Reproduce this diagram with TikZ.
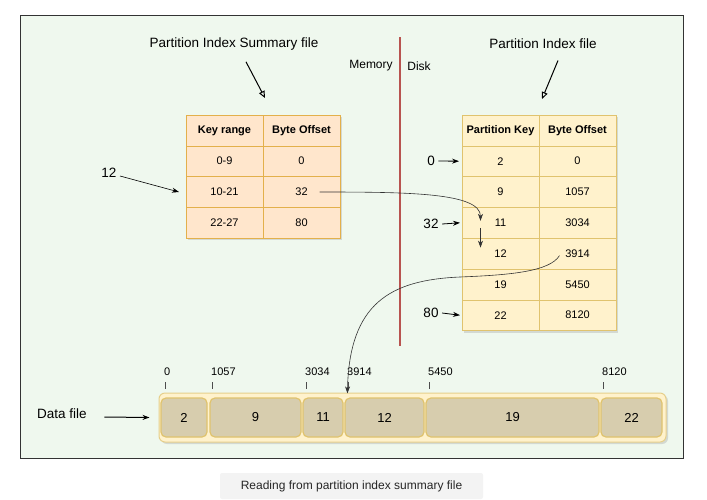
\documentclass[tikz,border=0pt]{standalone}
\usepackage{fontspec}
\setmainfont{Liberation Sans}
\usepackage{tikz}
\usetikzlibrary{positioning, arrows.meta, shadows}

\definecolor{bgframe}{HTML}{EFF8EE}
\definecolor{sumfill}{HTML}{FFE6CC}
\definecolor{sumline}{HTML}{E3B04B}
\definecolor{idxfill}{HTML}{FFF2CC}
\definecolor{idxline}{HTML}{E0C36E}
\definecolor{cellfill}{HTML}{D7CDAE}
\definecolor{divred}{HTML}{B85450}
\definecolor{capfill}{HTML}{F3F3F3}

\tikzset{
  sumcell/.style={draw=sumline, fill=sumfill, minimum width=77pt, minimum height=30.8pt,
    inner sep=1pt, outer sep=0pt, font=\fontsize{11}{13}\selectfont,
    drop shadow={shadow xshift=2pt, shadow yshift=-2pt, opacity=0.25}},
  idxcell/.style={sumcell, draw=idxline, fill=idxfill},
  headcell/.style={font=\fontsize{11}{13}\selectfont\bfseries},
  datacell/.style={draw=idxline, fill=cellfill, rounded corners=5pt, minimum height=39pt,
    line width=1.2pt, font=\fontsize{13}{15}\selectfont},
  heading/.style={font=\fontsize{13.5}{16}\selectfont},
  ptr/.style={-{Stealth[length=7pt,width=5pt]}, line width=0.8pt},
  link/.style={ptr, line width=0.6pt, draw=black!80},
  openptr/.style={-{Triangle[open, length=7pt, width=6pt]}, line width=1pt},
}

\begin{document}
\begin{tikzpicture}[x=1pt, y=-1pt]
    \useasboundingbox (0,0) rectangle (707,499);
    \draw[draw=black!80, fill=bgframe, line width=0.8pt] (20,15) rectangle (683,458);
    \node[fill=capfill, rounded corners=2pt, minimum width=263pt, minimum height=26pt,
      font=\fontsize{12}{14}\selectfont, text=black!85] (caption) at (351.5,486)
      {Reading from partition index summary file};

    % titles
    \node[heading] (sumtitle) at (234,44) {Partition Index Summary file};
    \node[heading] (idxtitle) at (543,44) {Partition Index file};

    % memory / disk split
    \coordinate (divtop) at (400,37);
    \coordinate (divbot) at (400,346);
    \draw[divred, line width=2.5pt] (divtop) -- (divbot);
    \node[font=\fontsize{12}{14}\selectfont] (mem) at (371,66) {Memory};
    \node[font=\fontsize{12}{14}\selectfont] (disk) at (419,66) {Disk};

    % summary table
    \node[sumcell, headcell, anchor=north west] (skh) at (186,115) {Key range};
    \node[sumcell, headcell, right=0pt of skh] (soh) {Byte Offset};
    \foreach \pk/\bo [count=\i, remember=\i as \j (initially h)] in {0-9/0, 10-21/32, 22-27/80} {
      \node[sumcell, below=0pt of sk\j] (sk\i) {\pk};
      \node[sumcell, right=0pt of sk\i] (so\i) {\bo};
    }

    % index table
    \node[idxcell, headcell, anchor=north west] (ikh) at (462,115) {Partition Key};
    \node[idxcell, headcell, right=0pt of ikh] (ioh) {Byte Offset};
    \foreach \pk/\bo [count=\i, remember=\i as \j (initially h)] in
        {2/0, 9/1057, 11/3034, 12/3914, 19/5450, 22/8120} {
      \node[idxcell, below=0pt of ik\j] (ik\i) {\pk};
      \node[idxcell, right=0pt of ik\i] (io\i) {\bo};
    }

    % title arrows
    \draw[openptr] ([xshift=12pt,yshift=-8pt]sumtitle.south) -- ([xshift=2pt,yshift=17pt]soh.north west);
    \draw[openptr] ([xshift=15pt,yshift=-8pt]idxtitle.south) -- ([xshift=3pt,yshift=16pt]ioh.north west);

    % lookup key
    \node[heading] (key) at (109,173) {12};
    \draw[ptr, line width=0.6pt] ([yshift=-3pt]key.east) -- ([xshift=-7pt]sk2.west);

    % offsets into the index
    \node[heading] (p0) at (431,161) {0};
    \node[heading] (p32) at (431,224) {32};
    \node[heading] (p80) at (431,313) {80};
    \draw[ptr] (p0.east) -- ([xshift=-3pt]ik1.west);
    \draw[ptr] (p32.east) -- ([xshift=-2pt]ik3.west);
    \draw[ptr] (p80.east) -- ([xshift=-2pt]ik6.west);

    % data file
    \node[draw=idxline!80, fill=idxfill, rounded corners=6pt, minimum width=507pt, minimum height=49pt,
      line width=1pt, drop shadow={shadow xshift=2pt, shadow yshift=-2pt, opacity=0.25}] (bar) at (412.5,417.5) {};
    \foreach \xa/\xb/\lbl in {161/207/2, 210/301/9, 303/343/11, 345/424/12, 426/599/19, 601/662/22}
      \node[datacell, minimum width={(\xb-\xa)*1pt}] (d\lbl) at ({(\xa+\xb)/2},417.5) {\lbl};
    \foreach \bo/\x in {0/165, 1057/212, 3034/306, 3914/348, 5450/429, 8120/603} {
      \draw[black!70, line width=0.6pt] (\x,382) -- (\x,389);
      \node[anchor=west, inner sep=0pt, font=\fontsize{11}{13}\selectfont] (off\bo) at (\x-1,372) {\bo};
    }
    \node[heading] (dlabel) at (62,414) {Data file};
    \draw[ptr, line width=1pt] ([xshift=14pt,yshift=-3pt]dlabel.east) -- ([xshift=-9pt]bar.west);

    % read path
    \draw[link] ([xshift=18pt]so2.center) .. controls +(90,0) and +(0,-28) .. ([xshift=-20pt,yshift=2pt]ik3.center);
    \draw[link] ([xshift=-20pt,yshift=-5pt]ik3.center) -- ([xshift=-20pt,yshift=6pt]ik4.center);
    \coordinate (bend) at (460,277);
    \draw[link] ([xshift=-18pt,yshift=-2pt]io4.center) .. controls +(-10,16) and +(50,-2) .. (bend)
      .. controls +(-70,3) and +(2,-90) .. ([xshift=3pt,yshift=4pt]d12.north west);
\end{tikzpicture}
\end{document}
